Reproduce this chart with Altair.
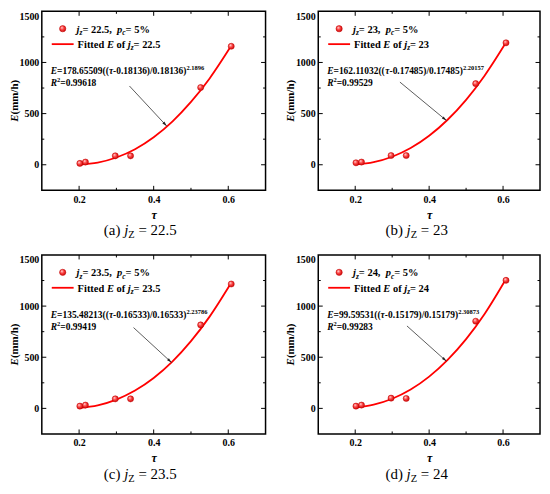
import math
import altair as alt
import pandas as pd

# ---------------- data ----------------
panel_ids = ["a", "b", "c", "d"]
jz_labels = ["22.5", "23", "23.5", "24"]

tau_obs = [0.202, 0.217, 0.297, 0.338, 0.526, 0.608]
E_obs_a = [13, 26, 87, 87, 755, 1158]
E_obs_b = [19, 26, 90, 90, 793, 1192]
E_obs_c = [22, 32, 93, 93, 816, 1216]
E_obs_d = [22, 32, 100, 97, 852, 1252]

tau_fit = [0.2, 0.25, 0.3, 0.35, 0.4, 0.45, 0.5, 0.55, 0.61]
E_fit_a = [1, 21, 71, 152, 269, 422, 614, 844, 1175]
E_fit_b = [2, 25, 78, 163, 283, 440, 635, 871, 1207]
E_fit_c = [4, 30, 86, 174, 297, 457, 657, 897, 1240]
E_fit_d = [7, 36, 94, 184, 310, 474, 677, 923, 1277]

fit_A = ["178.65509", "162.11032", "135.48213", "99.59531"]
fit_c = ["0.18136", "0.17485", "0.16533", "0.15179"]
fit_p = ["2.1896", "2.20157", "2.23786", "2.30873"]
fit_R2 = ["0.99618", "0.99529", "0.99419", "0.99283"]

arrow_tau0 = [0.335, 0.321, 0.346, 0.340]
arrow_E0 = [770, 808, 790, 806]
arrow_tau1 = [0.435, 0.447, 0.448, 0.447]
arrow_E1 = [378, 432, 448, 460]

x_labels = [0.2, 0.4, 0.6]
y_labels = [0, 500, 1000, 1500]
x_major = [0.2, 0.4, 0.6]
x_minor = [0.3, 0.5]
y_major = [0, 500, 1000]
y_minor = [250, 750, 1250]

E_obs = [E_obs_a, E_obs_b, E_obs_c, E_obs_d]
E_fit = [E_fit_a, E_fit_b, E_fit_c, E_fit_d]

# ---------------- styling ----------------
FONT = "Liberation Serif"
W_list = [225, 223, 225, 223]
H = 180
X_DOM = [0.1, 0.7]
Y_DOM = [-250, 1500]
RED = "#ff0000"

GRAD = alt.RadialGradient(
    gradient="radial",
    stops=[
        alt.GradientStop(offset=0, color="#ffe8e8"),
        alt.GradientStop(offset=0.45, color="#ff4848"),
        alt.GradientStop(offset=1, color="#c40000"),
    ],
    x1=0.35, y1=0.3, r1=0, x2=0.45, y2=0.45, r2=0.6,
)

# Times-compatible metrics (Liberation Serif), per 1000 em
BOLD = {' ': 250, '(': 333, ')': 333, ',': 250, '-': 333, '.': 250, '/': 278,
        '=': 570, '%': 1000, 'E': 667, 'F': 611, 'R': 722, 'a': 500, 'c': 444,
        'd': 556, 'e': 444, 'f': 333, 'h': 556, 'i': 278, 'j': 333, 'm': 833,
        'o': 500, 'p': 556, 't': 333, 'z': 444}
BOLD_IT = {'E': 667, 'R': 667, 'j': 278, 'p': 500, 'z': 389, 'c': 444, 'τ': 440}
REG = {' ': 250, '(': 333, ')': 333, 'a': 444, 'b': 500, 'c': 444, 'd': 500,
       '=': 564, '.': 250, 'Z': 611}
REG_IT = {'j': 278}


def tw(s, size, style, weight):
    if weight == "bold":
        table = BOLD_IT if style == "italic" else BOLD
    else:
        table = REG_IT if style == "italic" else REG
    tot = 0
    for ch in s:
        if ch.isdigit():
            tot += 500
        else:
            tot += table.get(ch, BOLD.get(ch, REG.get(ch, 500)))
    return tot * size / 1000.0


one = pd.DataFrame({"k": [0]})


def text_layers(pieces, x0, y0, angle=0):
    out = []
    cum = 0.0
    for txt, size, style, weight, dy in pieces:
        stripped = txt.lstrip(" ")
        lead = tw(txt[: len(txt) - len(stripped)], size, style, weight)
        shown = stripped.rstrip(" ")
        pos = cum + lead
        if angle == 0:
            enc = dict(x=alt.value(x0 + pos), y=alt.value(y0 + dy))
        else:
            enc = dict(x=alt.value(x0 + dy), y=alt.value(y0 - pos))
        if shown:
            out.append(
                alt.Chart(one).mark_text(
                    text=shown, align="left", baseline="alphabetic", font=FONT,
                    fontSize=size, fontStyle=style, fontWeight=weight,
                    angle=angle, color="black",
                ).encode(**enc)
            )
        cum += tw(txt, size, style, weight)
    return out


def total_w(pieces):
    return sum(tw(t, s, st, w) for t, s, st, w, _ in pieces)


XAXIS = alt.Axis(values=x_labels, format=".1f", ticks=False, domain=False,
                 grid=False, labelFont=FONT, labelFontWeight="bold",
                 labelFontSize=10, labelPadding=4, labelColor="black",
                 title="τ", titleFont=FONT, titleFontStyle="italic",
                 titleFontWeight="bold", titleFontSize=12, titlePadding=5,
                 titleColor="black")
YAXIS = alt.Axis(values=y_labels, format="d", ticks=False, domain=False,
                 grid=False, labelFont=FONT, labelFontWeight="bold",
                 labelFontSize=10, labelPadding=3, labelColor="black",
                 labelFlush=True, title=None)


def panel(i):
    W = W_list[i]
    xs = alt.Scale(domain=X_DOM, nice=False, zero=False)
    ys = alt.Scale(domain=Y_DOM, nice=False, zero=False)

    def X(f):
        return alt.X(f, scale=xs, axis=XAXIS)

    def Y(f):
        return alt.Y(f, scale=ys, axis=YAXIS)

    cdf = pd.DataFrame({"tau": tau_fit, "E": E_fit[i]})
    pdf = pd.DataFrame({"tau": tau_obs, "E": E_obs[i]})

    curve = alt.Chart(cdf).mark_line(color=RED, strokeWidth=1.8,
                                     interpolate="monotone").encode(
        x=X("tau:Q"), y=Y("E:Q"))
    pts = alt.Chart(pdf).mark_point(shape="circle", filled=True, fill=GRAD,
                                    stroke="#c00000", strokeWidth=0.5,
                                    size=38, opacity=1).encode(
        x=X("tau:Q"), y=Y("E:Q"))

    adf = pd.DataFrame({"tau": [arrow_tau0[i]], "E": [arrow_E0[i]],
                        "tau_end": [arrow_tau1[i]], "E_end": [arrow_E1[i]]})
    vx = (arrow_tau1[i] - arrow_tau0[i]) * W / (X_DOM[1] - X_DOM[0])
    vy = -(arrow_E1[i] - arrow_E0[i]) * H / (Y_DOM[1] - Y_DOM[0])
    ang = math.degrees(math.atan2(vx, -vy)) % 360
    aline = alt.Chart(adf).mark_rule(color="#333333", strokeWidth=0.8).encode(
        x=X("tau:Q"), y=Y("E:Q"), x2="tau_end:Q", y2="E_end:Q")
    ahead = alt.Chart(adf).mark_point(shape="M0,0L0.5,1.8L-0.5,1.8Z",
                                      filled=True, color="#222222", size=30,
                                      angle=ang, opacity=1, strokeWidth=0).encode(
        x=X("tau_end:Q"), y=Y("E_end:Q"))

    layers = [curve, pts, aline, ahead]

    # inward ticks on all four sides
    for vals, L in [(x_major, 4.5), (x_minor, 2.5)]:
        df = pd.DataFrame({"tau": vals})
        for ya, yb in [(H, H - L), (0, L)]:
            layers.append(alt.Chart(df).mark_rule(color="black", strokeWidth=1).encode(
                x=X("tau:Q"), y=alt.value(ya), y2=alt.value(yb)))
    for vals, L in [(y_major, 4.5), (y_minor, 2.5)]:
        df = pd.DataFrame({"E": vals})
        for xa, xb in [(0, L), (W, W - L)]:
            layers.append(alt.Chart(df).mark_rule(color="black", strokeWidth=1).encode(
                y=Y("E:Q"), x=alt.value(xa), x2=alt.value(xb)))

    # legend
    layers.append(alt.Chart(one).mark_point(shape="circle", filled=True, fill=GRAD,
                                            stroke="#c00000", strokeWidth=0.5,
                                            size=40, opacity=1).encode(
        x=alt.value(21), y=alt.value(17.5)))
    layers.append(alt.Chart(one).mark_rule(color=RED, strokeWidth=1.8).encode(
        x=alt.value(10), x2=alt.value(32), y=alt.value(33)))
    jz = jz_labels[i]
    FS = 10.5
    SS = 7.5
    row1 = [("j", FS, "italic", "bold", 0), ("z", SS, "italic", "bold", 2.5),
            ("= " + jz + ",  ", FS, "normal", "bold", 0),
            ("p", FS, "italic", "bold", 0), ("c", SS, "italic", "bold", 2.5),
            ("= 5%", FS, "normal", "bold", 0)]
    row2 = [("Fitted ", FS, "normal", "bold", 0), ("E", FS, "italic", "bold", 0),
            (" of ", FS, "normal", "bold", 0), ("j", FS, "italic", "bold", 0),
            ("z", SS, "italic", "bold", 2.5), ("= " + jz, FS, "normal", "bold", 0)]
    layers += text_layers(row1, 35, 21.3)
    layers += text_layers(row2, 36, 36.8)

    # fitted equation annotation
    eq = [("E", 9.5, "italic", "bold", 0),
          ("=" + fit_A[i] + "((", 9.5, "normal", "bold", 0),
          ("τ", 9.5, "italic", "bold", 0),
          ("-" + fit_c[i] + ")/" + fit_c[i] + ")", 9.5, "normal", "bold", 0),
          (fit_p[i], 6.5, "normal", "bold", -4.5)]
    r2 = [("R", 9.5, "italic", "bold", 0), ("2", 6.5, "normal", "bold", -4),
          ("=" + fit_R2[i], 9.5, "normal", "bold", 0)]
    layers += text_layers(eq, 9, 63.5)
    layers += text_layers(r2, 9, 75)

    # y axis title (rotated, mixed style)
    yt = [("E", 11, "italic", "bold", 0), ("(mm/h)", 11, "normal", "bold", 0)]
    layers += text_layers(yt, -24, H / 2 + total_w(yt) / 2, angle=270)

    # caption under the panel
    cap = [("(" + panel_ids[i] + ") ", 15, "normal", "normal", 0),
           ("j", 15, "italic", "normal", 0),
           ("Z", 10.5, "normal", "normal", 3),
           (" = " + jz, 15, "normal", "normal", 0)]
    layers += text_layers(cap, 99 - total_w(cap) / 2, 225)

    return alt.layer(*layers).properties(width=W, height=H)


panels = [panel(i) for i in range(4)]
chart = alt.concat(*panels, columns=2, spacing={"row": 65, "column": 53},
                   bounds="flush").properties(padding=0).configure_view(
    stroke="black", strokeWidth=1.5)

chart.save("out.html", embed_options={"renderer": "svg", "actions": False})
